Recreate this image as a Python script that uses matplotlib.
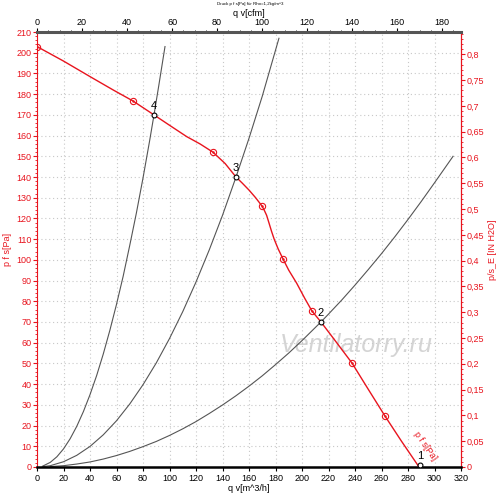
import matplotlib
matplotlib.use('Agg')
import matplotlib.pyplot as plt
from matplotlib.ticker import MultipleLocator, FuncFormatter

plt.rcParams['font.family'] = ['Liberation Sans', 'DejaVu Sans']

# fan curve p f s [Pa] over q v [m^3/h]
fan_q = [0, 20, 40, 57.6, 72.5, 88.3, 100, 113, 123, 132.8, 142, 150.2, 155, 160, 165, 169.8,
         171.5, 173.3, 175, 177, 179, 182, 185.7, 190, 196, 202, 207.5, 214.3, 225, 237.7, 250, 262.6, 275, 288.3]
fan_p = [203, 196, 188.5, 182, 176.7, 170, 165, 159.5, 156, 152, 146.5, 140, 137, 133.7, 130, 126,
         124, 121.5, 118, 113.8, 110, 105.3, 100.4, 95, 88.7, 81.5, 75.3, 70, 61, 50.2, 37.5, 24.6, 12.5, 0]

# measured points on the fan curve
mark_q = [0, 72.5, 132.8, 169.8, 185.7, 207.5, 237.7, 262.6]
mark_p = [203, 176.7, 152, 126, 100.4, 75.3, 50.2, 24.6]

# system curves
sys4_q = [4, 10, 15, 20, 25, 30, 35, 40, 45, 50, 55, 60, 65, 70, 75, 80, 85, 88.3, 92, 96.6]
sys4_p = [0.3, 2.2, 4.9, 8.7, 13.6, 19.6, 26.7, 34.9, 44.1, 54.5, 66, 78.5, 92, 107, 122.6, 139.5, 157.5, 170, 184.5, 203]
sys3_q = [5, 10, 20, 30, 40, 50, 60, 70, 80, 90, 100, 110, 120, 130, 140, 150.2, 160, 170, 182.6]
sys3_p = [0.2, 0.6, 2.5, 5.6, 9.9, 15.5, 22.3, 30.4, 39.7, 50.2, 62, 75, 89.3, 104.8, 121.5, 140, 158.7, 179, 207]
sys2_q = [10, 20, 30, 40, 50, 60, 70, 80, 90, 100, 110, 120, 130, 140, 150, 160, 170, 180, 190, 200,
          214.3, 220, 230, 240, 250, 260, 270, 280, 290, 300, 314]
sys2_p = [0.15, 0.6, 1.4, 2.4, 3.8, 5.5, 7.5, 9.8, 12.3, 15.2, 18.4, 21.9, 25.8, 29.9, 34.3, 39, 44, 49.4, 55, 61,
          70, 73.8, 80.6, 87.8, 95.3, 103, 111.1, 119.5, 128.2, 137.2, 150]

# operating points
op_q = [289, 214.3, 150.2, 88.3]
op_p = [1, 70, 140, 170]
op_lab = ['1', '2', '3', '4']

RED = '#e8141e'
CFM = 1.699
INH2O = 249.089

fig = plt.figure(figsize=(5, 5.01), dpi=100)
ax = fig.add_axes([0.074, 0.068, 0.848, 0.868])

ax.set_xlim(0, 320)
ax.set_ylim(0, 210)

for q, p in [(sys4_q, sys4_p), (sys3_q, sys3_p), (sys2_q, sys2_p)]:
    ax.plot(q, p, color='#555555', lw=0.8, zorder=2)

ax.plot(fan_q, fan_p, color=RED, lw=1.0, zorder=3)
ax.plot(mark_q, mark_p, 'o', ms=4.5, mfc='none', mec=RED, mew=0.8, zorder=4)
ax.plot(mark_q, mark_p, '.', ms=1.5, color=RED, zorder=4)

ax.plot(op_q, op_p, 'o', ms=3.5, mfc='white', mec='black', mew=0.8, zorder=5)
for q, p, t in zip(op_q, op_p, op_lab):
    ax.text(q, p + 2, t, fontsize=8, ha='center', va='bottom', color='black', zorder=6)

ax.text(293, 10, 'p f s[Pa]', color=RED, fontsize=6.5, rotation=-55,
        ha='center', va='center')

# watermark
ax.text(241, 59, 'Ventilatorry.ru', fontsize=18, style='italic', color='#d4d4d4',
        ha='center', va='center', zorder=1)

ax.xaxis.set_major_locator(MultipleLocator(20))
ax.yaxis.set_major_locator(MultipleLocator(10))
ax.yaxis.set_minor_locator(MultipleLocator(2))
ax.grid(True, which='major', color='#c8c8c8', ls=(0, (1, 2.5)), lw=0.8)
ax.tick_params(axis='x', labelsize=6.5, length=3, pad=2, colors='black')
ax.tick_params(axis='y', labelsize=6.5, length=3, pad=1, colors=RED)
ax.tick_params(axis='y', which='minor', length=1.5, colors=RED)
ax.spines['left'].set_color(RED)
ax.spines['right'].set_color(RED)
ax.spines['bottom'].set_linewidth(1.8)
ax.spines['top'].set_color('#555555')
ax.spines['top'].set_linewidth(2.2)
ax.set_xlabel('q v[m^3/h]', fontsize=6.5, labelpad=1)
ax.set_ylabel('p f s[Pa]', fontsize=6.5, color=RED, labelpad=3)

top = ax.secondary_xaxis('top', functions=(lambda x: x / CFM, lambda x: x * CFM))
top.xaxis.set_major_locator(MultipleLocator(20))
top.xaxis.set_minor_locator(MultipleLocator(5))
top.tick_params(labelsize=6.5, length=3, pad=1)
top.tick_params(which='minor', length=1.5)
top.set_xlabel('q v[cfm]', fontsize=6.5, labelpad=1)

right = ax.secondary_yaxis('right', functions=(lambda y: y / INH2O, lambda y: y * INH2O))
right.yaxis.set_major_locator(MultipleLocator(0.05))
right.yaxis.set_minor_locator(MultipleLocator(0.01))
right.yaxis.set_major_formatter(FuncFormatter(lambda v, pos: ('%g' % round(v, 2)).replace('.', ',')))
right.tick_params(labelsize=6.5, length=3, pad=1, colors=RED)
right.tick_params(which='minor', length=1.5, colors=RED)
right.spines['right'].set_color(RED)
right.set_ylabel('p/s_E [IN H2O]', fontsize=6.5, color=RED, labelpad=3)

fig.text(0.5, 0.996, 'Druck p f s[Pa] f\u00fcr Rho=1,2kg/m^3', fontsize=3.2, ha='center', va='top')

fig.savefig('out.png', dpi=100)
